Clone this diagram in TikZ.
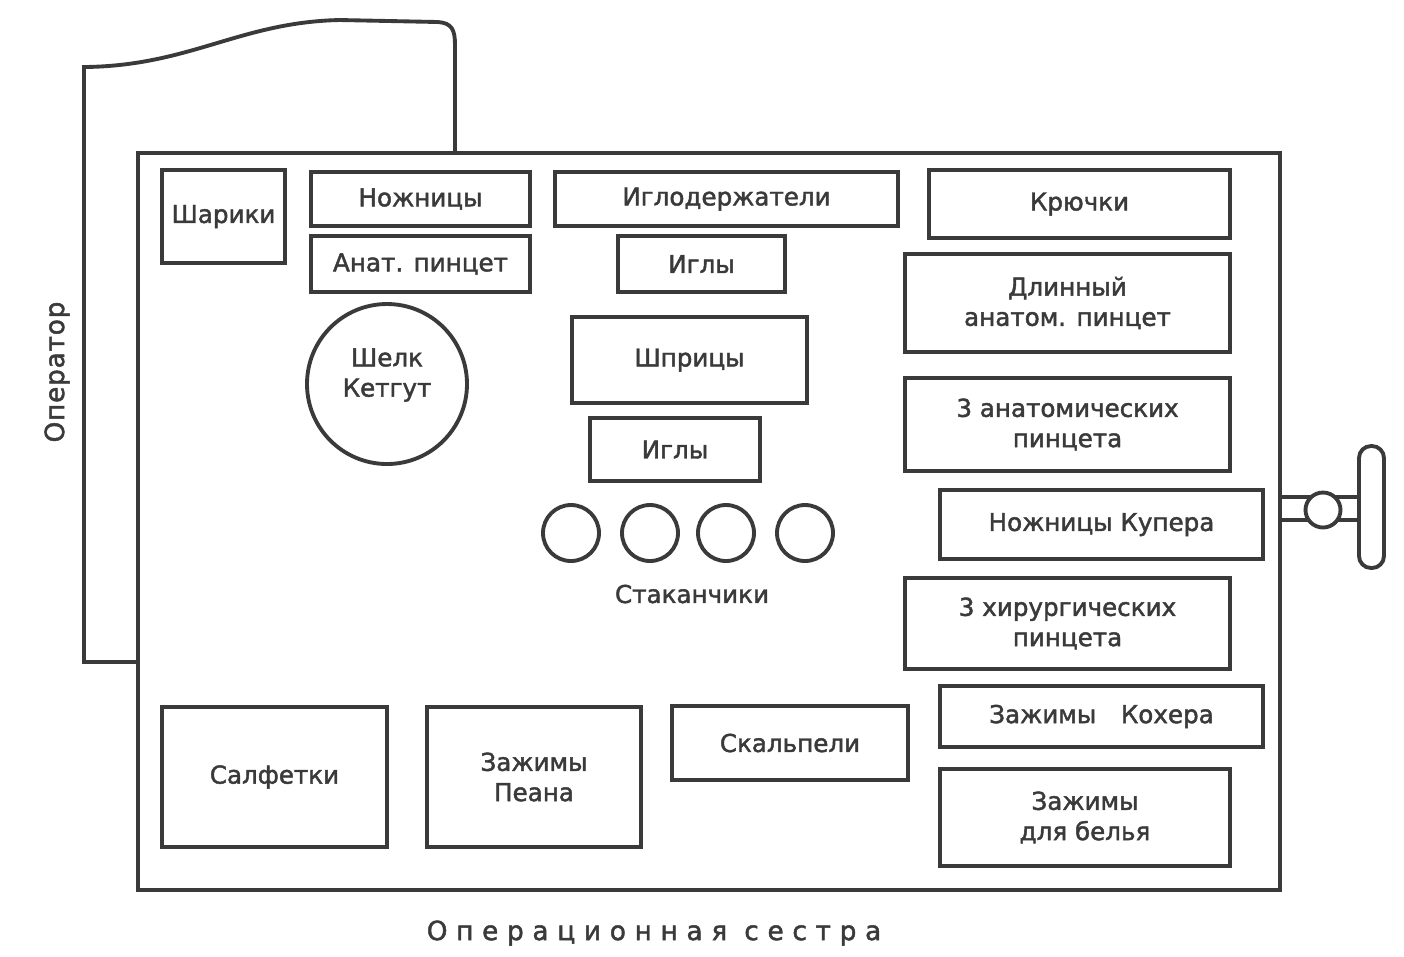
\documentclass[tikz,border=0pt]{standalone}
\usepackage{fontspec}
\setmainfont{DejaVu Sans}
\newfontfamily\medfont{DejaVu Sans}[FakeBold=1.8]
\usepackage{tikz}
\usepackage{xcolor}
\definecolor{ink}{HTML}{3A3A3A}

\begin{document}
\begin{tikzpicture}[x=0.1mm, y=-0.1mm,
    box/.style={draw=ink, line width=1.1pt, inner sep=0pt, align=center, text=ink,
                font=\medfont\fontsize{7}{8.6}\selectfont},
    cup/.style={draw=ink, line width=1.1pt, circle, minimum size=5.6mm, inner sep=0pt},
    lbl/.style={text=ink, inner sep=0pt, font=\medfont\fontsize{7}{8.6}\selectfont}
  ]
  \useasboundingbox (0,0) rectangle (1404,956);
  % table and operator side
  \node[draw=ink, line width=1.1pt, minimum width=114.2mm, minimum height=73.7mm, inner sep=0pt] (table) at (709,521.5) {};
  \draw[ink, line width=1.1pt] (138,662) -- (84,662) -- (84,67)
    .. controls (190,66) and (240,22) .. (340,20) -- (438,22)
    .. controls (452,23) and (455,30) .. (455,45) -- (455,153);
  % handle on the right
  \draw[ink, line width=1.1pt] (1280,497) -- (1358,497) (1280,520) -- (1358,520);
  \node[cup, fill=white, minimum size=3.5mm] (knob) at (1323,510) {};
  \draw[ink, line width=1.1pt, rounded corners=1.2mm] (1359,446) rectangle (1384,568);
  % left column
  \node[box, minimum width=12.3mm, minimum height=9.3mm] (balls) at (223.5,216.5) {Шарики};
  \node[box, minimum width=21.9mm, minimum height=5.4mm] (scis) at (420.5,199) {Ножницы};
  \node[box, minimum width=21.9mm, minimum height=5.6mm] (forc) at (420.5,264) {Анат. пинцет};
  \node[cup, minimum size=16mm] (suture) at (387,384) {};
  \node[lbl, align=center] (suturelbl) at (387,375) {Шелк\\Кетгут};
  % middle column
  \node[box, minimum width=34.3mm, minimum height=5.4mm] (holders) at (726.5,199) {Иглодержатели};
  \node[box, minimum width=16.7mm, minimum height=5.6mm] (needles1) at (701.5,264) {Иглы};
  \node[box, minimum width=23.5mm, minimum height=8.6mm] (syringes) at (689.5,360) {Шприцы};
  \node[box, minimum width=17mm, minimum height=6.3mm] (needles2) at (675,449.5) {Иглы};
  \foreach \x [count=\i] in {571,650,726,805}
    \node[cup] (cup\i) at (\x,533) {};
  \node[lbl] (cupslbl) at (692,594) {Стаканчики};
  % right column
  \node[box, minimum width=30.1mm, minimum height=6.8mm] (hooks) at (1079.5,204) {Крючки};
  \node[box, minimum width=32.5mm, minimum height=9.8mm] (longforc) at (1067.5,303) {Длинный\\анатом. пинцет};
  \node[box, minimum width=32.5mm, minimum height=9.3mm] (anatforc) at (1067.5,424.5) {3 анатомических\\пинцета};
  \node[box, minimum width=32.3mm, minimum height=6.9mm] (cooper) at (1101.5,524.5) {Ножницы Купера};
  \node[box, minimum width=32.5mm, minimum height=9.1mm] (surgforc) at (1067.5,623.5) {3 хирургических\\пинцета};
  \node[box, minimum width=32.3mm, minimum height=6.1mm] (kocher) at (1101.5,716.5) {Зажимы\quad Кохера};
  \node[box, minimum width=29mm, minimum height=9.7mm] (towel) at (1085,817.5) {Зажимы\\для белья};
  % bottom row
  \node[box, minimum width=22.5mm, minimum height=14mm] (wipes) at (274.5,777) {Салфетки};
  \node[box, minimum width=21.4mm, minimum height=14mm] (pean) at (534,777) {Зажимы\\Пеана};
  \node[box, minimum width=23.6mm, minimum height=7.4mm] (scalp) at (790,743) {Скальпели};
  % people
  \node[lbl, rotate=90, font=\medfont\fontsize{7.5}{9}\selectfont\addfontfeature{LetterSpace=3}] (operator) at (57,372) {Оператор};
  \node[lbl, font=\medfont\fontsize{7.5}{9}\selectfont\addfontfeature{LetterSpace=33}] (nurse) at (654,933) {Операционная сестра};
\end{tikzpicture}
\end{document}
